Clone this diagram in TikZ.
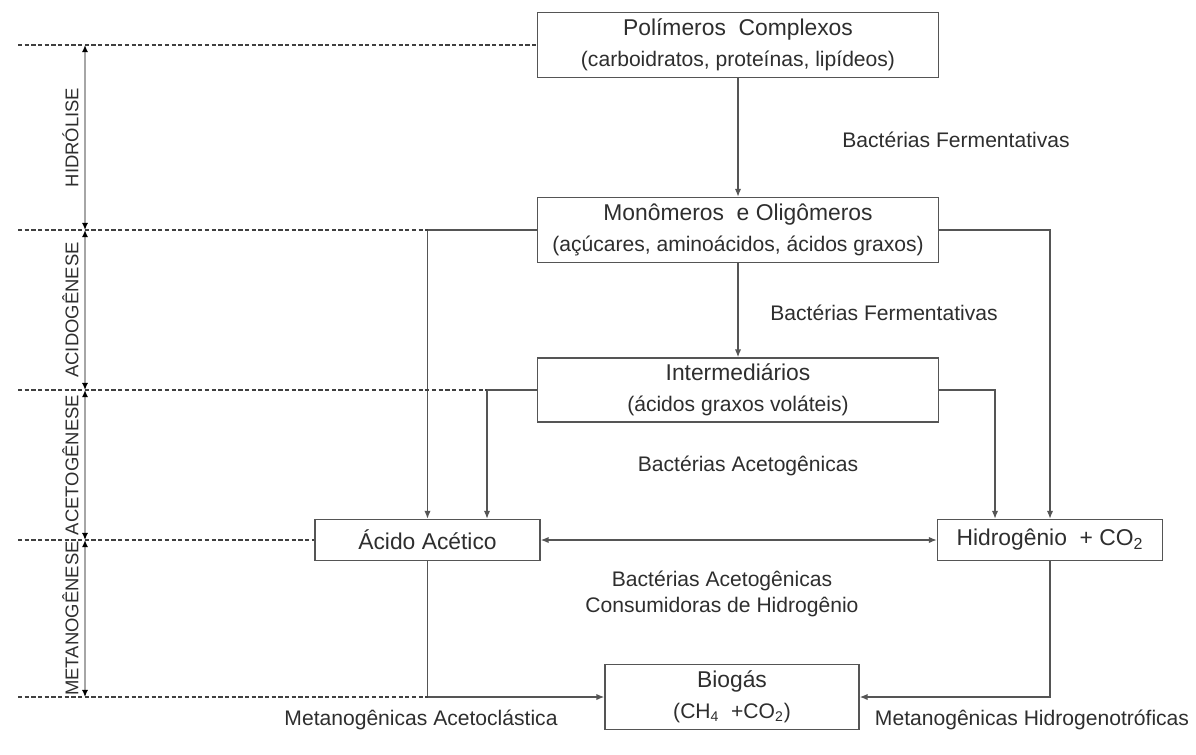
\documentclass[tikz,border=0pt]{standalone}
\usepackage{fontspec}
\setmainfont{Liberation Sans}
\usetikzlibrary{arrows.meta}

\definecolor{linha}{HTML}{555555}
\definecolor{texto}{HTML}{2E2E2E}
\newcommand{\titulo}[1]{{\fontsize{13}{17.5}\selectfont #1}}

\begin{document}
\begin{tikzpicture}[x=0.02cm, y=-0.02cm,
        >={Latex[length=4.5pt,width=3.6pt]},
        caixa/.style={draw=linha, line width=0.8pt, fill=white, text=texto,
            align=center, inner sep=0pt, font=\fontsize{12}{17.5}\selectfont},
        rotulo/.style={text=texto, align=center, font=\fontsize{12}{14.8}\selectfont},
        fase/.style={text=texto, rotate=90, inner sep=3.5pt, font=\fontsize{10.5}{12}\selectfont},
        seta/.style={draw=linha, line width=0.8pt, ->},
        tracejado/.style={draw=black!75, dash pattern=on 2.4pt off 1.4pt, line width=1pt},
        limite/.style={draw=black!35, line width=1.3pt,
            {Latex[length=4pt,width=3.5pt,black]}-{Latex[length=4pt,width=3.5pt,black]}}]
    \useasboundingbox (0,0) rectangle (1196,754);

    % caixas
    \node[caixa, minimum width=8.02cm, minimum height=1.3cm] (poli) at (738,45)
        {\titulo{Polímeros\ \ Complexos}\\(carboidratos, proteínas, lipídeos)};
    \node[caixa, minimum width=8.02cm, minimum height=1.3cm] (mono) at (738,230)
        {\titulo{Monômeros\ \ e Oligômeros}\\(açúcares, aminoácidos, ácidos graxos)};
    \node[caixa, minimum width=8.02cm, minimum height=1.28cm] (inter) at (738,390)
        {\titulo{Intermediários}\\(ácidos graxos voláteis)};
    \node[caixa, minimum width=4.5cm, minimum height=0.82cm] (acido) at (427.5,540)
        {\titulo{Ácido Acético}};
    \node[caixa, minimum width=4.5cm, minimum height=0.82cm] (hidro) at (1050,540)
        {\titulo{Hidrogênio\ \ + CO\textsubscript{2}}};
    \node[caixa, minimum width=5.08cm, minimum height=1.3cm] (bio) at (732,697)
        {\titulo{Biogás}\\(CH\textsubscript{4}\ \ +CO\textsubscript{2})};

    % rotulos das bacterias
    \node[rotulo] (bf1) at (956,140) {Bactérias Fermentativas};
    \node[rotulo] (bf2) at (884,313) {Bactérias Fermentativas};
    \node[rotulo] (ba1) at (748,466) {Bactérias Acetogênicas};
    \node[rotulo] (ba2) at (722,594) {Bactérias Acetogênicas\\Consumidoras de Hidrogênio};
    \node[rotulo] (ma) at (421,720) {Metanogênicas Acetoclástica};
    \node[rotulo] (mh) at (1032,720) {Metanogênicas Hidrogenotróficas};

    % cantos das ligacoes
    \coordinate (c1) at (427.5,230);
    \coordinate (c2) at (487,390);
    \coordinate (c3) at (995,390);
    \coordinate (c4) at (427.5,697);

    \draw[seta] (poli) -- (mono);
    \draw[seta] (mono) -- (inter);
    \draw[seta] (mono.west) -| (acido.north);
    \draw[seta] (inter.west) -- (c2) -- (c2 |- acido.north);
    \draw[seta] (mono.east) -| (hidro.north);
    \draw[seta] (inter.east) -- (c3) -- (c3 |- hidro.north);
    \draw[seta, <->] (acido) -- (hidro);
    \draw[seta] (acido.south) |- (bio.west);
    \draw[seta] (hidro.south) |- (bio.east);

    % fases
    \foreach \i/\y in {0/45, 1/230, 2/390, 3/540, 4/697} {
        \coordinate (d\i) at (18,\y);
        \coordinate (p\i) at (85,\y);
    }
    \draw[tracejado] (d0) -- (poli.west);
    \draw[tracejado] (d1) -- (c1);
    \draw[tracejado] (d2) -- (c2);
    \draw[tracejado] (d3) -- (acido.west);
    \draw[tracejado] (d4) -- (c4);

    \foreach \a/\b/\nome in {0/1/HIDRÓLISE, 1/2/ACIDOGÊNESE, 2/3/ACETOGÊNESE, 3/4/METANOGÊNESE} {
        \draw[limite] (p\a) -- (p\b);
        \path (p\a) -- (p\b) node[fase, midway, anchor=south] (f\a) {\nome};
    }
\end{tikzpicture}
\end{document}
